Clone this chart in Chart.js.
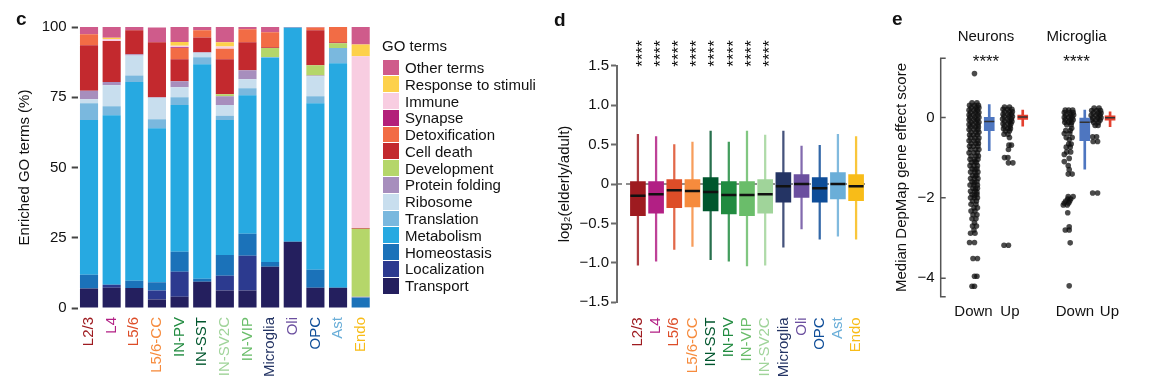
<!DOCTYPE html>
<html>
<head>
<meta charset="utf-8">
<script src="https://cdn.jsdelivr.net/npm/chart.js@4.4.1/dist/chart.umd.min.js"></script>
<style>
  html, body { margin:0; padding:0; background:#fff; }
  body { font-family:"Liberation Sans", Arial, sans-serif; color:#111; }
  #fig { position:relative; width:1154px; height:388px; overflow:hidden; }
  #fig canvas { position:absolute; top:0; }
  .tag { position:absolute; font-size:19px; font-weight:bold; line-height:19px; }
  #goLegend { position:absolute; left:383px; top:37px; font-size:15px; }
  #goLegend .ttl { height:22px; line-height:18px; margin-left:-1px; }
  #goLegend .item { display:flex; align-items:center; height:16.8px; white-space:nowrap; }
  #goLegend .sw { width:16px; height:15.8px; margin-right:6px; }
</style>
</head>
<body>
<div id="fig">
  <canvas id="chartGo" width="392" height="388" style="left:0"></canvas>
  <canvas id="chartFold" width="344" height="388" style="left:548px"></canvas>
  <canvas id="chartDep" width="274" height="388" style="left:880px"></canvas>
  <div class="tag" style="left:16px;top:9px">c</div>
  <div class="tag" style="left:554px;top:10px">d</div>
  <div class="tag" style="left:892px;top:9px">e</div>
  <div id="goLegend"></div>
</div>
<script>
// ─────────────────────────────────────────────────────────────────────────────
// DATA
// ─────────────────────────────────────────────────────────────────────────────

// c — share of enriched GO terms per cell type (%), stacked bottom → top
const goCells = ['L2/3','L4','L5/6','L5/6-CC','IN-PV','IN-SST','IN-SV2C','IN-VIP','Microglia','Oli','OPC','Ast','Endo'];
const goTransport      = [6.9, 7.2, 7.1, 3.0, 4.0, 9.3, 6.2, 6.2, 14.7, 23.6, 7.2, 7.2, 0.2];
const goLocalization   = [0, 1.1, 0, 3.2, 8.9, 0, 5.3, 12.4, 0, 0, 0, 0, 0];
const goHomeostasis    = [4.9, 0, 2.6, 3.0, 7.1, 1.1, 7.4, 7.8, 1.7, 0, 6.4, 0, 3.5];
const goMetabolism     = [55.1, 60.3, 70.7, 54.8, 52.2, 76.3, 48.0, 49.3, 72.7, 76.2, 59.3, 79.9, 0];
const goTranslation    = [6.0, 3.2, 2.3, 3.2, 2.8, 2.5, 1.5, 2.5, 0.2, 0, 2.5, 5.4, 0];
const goRibosome       = [1.4, 7.5, 7.2, 7.6, 3.6, 1.6, 3.8, 3.2, 0, 0, 7.1, 0, 0];
const goProteinFolding = [3.0, 1.1, 0.4, 0.2, 2.1, 0.2, 3.2, 3.2, 0, 0, 0.2, 0, 0.3];
const goDevelopment    = [0, 0, 0, 0, 0, 0, 0.7, 0, 3.2, 0, 3.7, 1.7, 24.2];
const goCellDeath      = [16.2, 14.6, 8.5, 19.6, 7.8, 5.3, 12.4, 10.0, 0.3, 0, 12.4, 0.4, 0.3];
const goDetox          = [3.9, 0, 0, 0, 4.0, 2.5, 3.8, 4.6, 5.3, 0, 1.0, 5.4, 0];
const goSynapse        = [0, 0, 0, 0, 0.3, 0, 0, 0, 0, 0, 0, 0, 0];
const goImmune         = [0, 0.7, 0, 0, 0.5, 0, 0.8, 0, 0, 0, 0, 0, 61.1];
const goResponse       = [0, 0.5, 0, 0, 1.4, 0, 1.5, 0, 0, 0, 0, 0, 4.2];
const goOther          = [2.6, 3.8, 1.2, 5.2, 5.3, 1.2, 5.4, 0.8, 1.9, 0.2, 0.2, 0, 6.2];

const goTerms  = ['Transport','Localization','Homeostasis','Metabolism','Translation','Ribosome','Protein folding',
                  'Development','Cell death','Detoxification','Synapse','Immune','Response to stimuli','Other terms'];
const goShares = [goTransport, goLocalization, goHomeostasis, goMetabolism, goTranslation, goRibosome, goProteinFolding,
                  goDevelopment, goCellDeath, goDetox, goSynapse, goImmune, goResponse, goOther];
const goTicks  = [0, 25, 50, 75, 100];

// d — log2(elderly/adult) box stats per cell type
const foldCells  = ['L2/3','L4','L5/6','L5/6-CC','IN-SST','IN-PV','IN-VIP','IN-SV2C','Microglia','Oli','OPC','Ast','Endo'];
const foldLow    = [-1.03, -0.98, -0.83, -0.79, -0.96, -0.98, -1.04, -1.03, -0.80, -0.57, -0.70, -0.66, -0.70];
const foldQ1     = [-0.40, -0.37, -0.30, -0.29, -0.34, -0.38, -0.40, -0.37, -0.23, -0.17, -0.23, -0.19, -0.21];
const foldMedian = [-0.15, -0.13, -0.08, -0.09, -0.10, -0.14, -0.14, -0.13, -0.03, 0.00, -0.055, 0.00, -0.03];
const foldQ3     = [0.03, 0.03, 0.055, 0.055, 0.08, 0.03, 0.03, 0.055, 0.145, 0.12, 0.08, 0.145, 0.12];
const foldHigh   = [0.63, 0.60, 0.50, 0.53, 0.67, 0.53, 0.67, 0.62, 0.67, 0.48, 0.49, 0.63, 0.60];
const foldStars  = ['****','****','****','****','****','****','****','****','','','','',''];

// e — median DepMap gene effect score, [jitter, score] per gene
const depGroups = ['Neurons', 'Microglia'];
const depStars  = ['****', '****'];
const depSides  = ['Down', 'Up', 'Down', 'Up'];
const depLow    = [-0.83, -0.22, -1.29, -0.23];
const depQ1     = [-0.33, -0.05, -0.58, -0.07];
const depMedian = [-0.10, 0.01, -0.12, -0.01];
const depQ3     = [0.00, 0.06, -0.02, 0.04];
const depHigh   = [0.32, 0.18, 0.18, 0.14];
const depTicks  = [0, -2, -4];

const neuDown = [
  [0.05,1.09],
  [-0.2,0.36],[0.3,0.36],[-0.45,0.30],[0.05,0.30],[0.45,0.30],[-0.3,0.24],[0.2,0.24],[0.5,0.24],
  [-0.5,0.18],[0.0,0.18],[0.35,0.18],[-0.35,0.12],[0.15,0.12],[0.5,0.12],[-0.5,0.06],[-0.05,0.06],[0.4,0.06],
  [-0.4,0.00],[0.1,0.00],[0.5,0.00],[-0.5,-0.06],[0.0,-0.06],[0.35,-0.06],[-0.3,-0.12],[0.2,-0.12],[0.5,-0.12],
  [-0.5,-0.18],[-0.1,-0.18],[0.4,-0.18],[-0.35,-0.24],[0.15,-0.24],[0.45,-0.24],[-0.5,-0.30],[0.0,-0.30],[0.4,-0.30],
  [-0.3,-0.37],[0.2,-0.37],[0.5,-0.37],[-0.45,-0.44],[-0.05,-0.44],[0.35,-0.44],[-0.35,-0.51],[0.1,-0.51],[0.5,-0.51],
  [-0.5,-0.58],[0.0,-0.58],[0.4,-0.58],[-0.3,-0.65],[0.2,-0.65],[0.45,-0.65],[-0.45,-0.72],[-0.05,-0.72],[0.4,-0.72],
  [-0.35,-0.80],[0.15,-0.80],[0.5,-0.80],[-0.5,-0.88],[0.0,-0.88],[0.35,-0.88],[-0.3,-0.96],[0.2,-0.96],[0.45,-0.96],
  [-0.4,-1.04],[0.05,-1.04],[0.4,-1.04],[-0.25,-1.12],[0.1,-1.10],[0.25,-1.12],[-0.4,-1.20],[0.0,-1.20],[0.35,-1.20],
  [-0.2,-1.28],[0.1,-1.30],[0.3,-1.28],[-0.35,-1.36],[0.1,-1.36],[0.4,-1.36],[-0.15,-1.44],[0.15,-1.46],[0.3,-1.44],
  [-0.35,-1.52],[0.05,-1.52],[0.4,-1.52],[-0.2,-1.60],[0.05,-1.62],[0.3,-1.60],[-0.4,-1.68],[0.0,-1.68],[0.35,-1.68],
  [-0.1,-1.76],[0.15,-1.78],[0.35,-1.76],[-0.35,-1.84],[0.1,-1.84],[0.3,-1.86],[-0.2,-1.92],[0.05,-1.94],[0.3,-1.92],
  [-0.35,-2.00],[0.05,-2.00],[0.35,-2.00],
  [-0.15,-2.08],[0.25,-2.08],[-0.3,-2.16],[0.2,-2.16],[0.0,-2.25],[0.35,-2.25],[-0.3,-2.33],[0.1,-2.33],
  [-0.1,-2.42],[0.3,-2.42],[-0.2,-2.52],[0.2,-2.52],[0.05,-2.62],[-0.15,-2.70],[0.25,-2.70],[0.0,-2.80],
  [-0.35,-2.88],[0.1,-2.88],
  [-0.45,-3.11],[0.05,-3.11],[-0.1,-3.51],[0.35,-3.51],[0.05,-3.95],[0.3,-3.95],[-0.2,-4.20],[0.05,-4.20]
];
const neuUp = [
  [-0.3,0.26],[0.2,0.26],[-0.45,0.20],[0.0,0.20],[0.45,0.20],[-0.3,0.14],[0.2,0.14],[0.5,0.14],
  [-0.45,0.08],[0.05,0.08],[0.4,0.08],[-0.35,0.02],[0.15,0.02],[0.5,0.02],[-0.5,-0.04],[0.0,-0.04],[0.4,-0.04],
  [-0.3,-0.10],[0.2,-0.10],[0.45,-0.10],[-0.45,-0.16],[0.05,-0.16],[0.35,-0.16],[-0.3,-0.22],[0.25,-0.22],
  [-0.4,-0.28],[0.05,-0.28],[0.3,-0.28],[-0.2,-0.34],[0.2,-0.34],
  [-0.35,-0.42],[0.05,-0.42],[0.2,-0.50],[0.15,-0.69],[0.4,-0.69],[0.1,-0.80],
  [-0.3,-1.00],[0.05,-1.00],[0.1,-1.13],[0.55,-1.13],[-0.35,-3.18],[0.1,-3.18]
];
const micDown = [
  [-0.35,0.18],[0.0,0.18],[0.4,0.18],[-0.45,0.12],[0.1,0.12],[0.45,0.12],[-0.3,0.06],[0.2,0.06],[0.5,0.06],
  [-0.45,0.00],[0.0,0.00],[0.35,0.00],[-0.35,-0.06],[0.15,-0.06],[0.45,-0.06],[-0.4,-0.12],[0.0,-0.12],[0.3,-0.12],
  [-0.2,-0.18],[0.25,-0.18],[0.3,-0.27],[-0.3,-0.33],[0.15,-0.33],[-0.45,-0.40],[0.1,-0.40],
  [-0.25,-0.50],[0.35,-0.50],[0.05,-0.55],[0.0,-0.66],[0.25,-0.66],[-0.25,-0.74],[0.15,-0.74],
  [-0.2,-0.86],[0.2,-0.86],[-0.45,-0.92],[0.05,-1.02],[-0.45,-1.10],[-0.05,-1.20],[0.05,-1.30],
  [-0.05,-1.41],[0.35,-1.41],[-0.05,-1.97],[0.45,-1.97],[-0.1,-2.03],[0.2,-2.03],[-0.3,-2.08],[0.1,-2.08],
  [-0.45,-2.13],[0.0,-2.13],[-0.55,-2.18],[-0.15,-2.18],[-0.1,-2.37],[0.05,-2.72],[-0.35,-2.80],[0.05,-2.80],
  [0.15,-3.12],[0.05,-4.19]
];
const micUp = [
  [-0.2,0.23],[0.3,0.23],[-0.45,0.17],[0.05,0.17],[0.45,0.17],[-0.3,0.11],[0.2,0.11],[0.5,0.11],
  [-0.5,0.05],[0.0,0.05],[0.4,0.05],[-0.35,-0.01],[0.15,-0.01],[0.5,-0.01],[-0.45,-0.07],[0.0,-0.07],[0.4,-0.07],
  [-0.25,-0.13],[0.25,-0.13],[-0.1,-0.20],[0.2,-0.20],
  [-0.35,-0.48],[0.05,-0.48],[-0.3,-0.60],[0.15,-0.60],[-0.35,-1.88],[0.15,-1.88]
];
const depPoints = [neuDown, neuUp, micDown, micUp];

// ─────────────────────────────────────────────────────────────────────────────
// STYLE / LAYOUT
// ─────────────────────────────────────────────────────────────────────────────

const FONT = '"Liberation Sans", Arial, sans-serif';
const goColors = ['#241F5E','#2C3A8F','#1B72B9','#27A9E1','#7AB8DE','#C8DEEE','#A78EBD',
                  '#B5D66A','#C3292E','#F26C45','#B3207A','#F8CDE1','#FDD14B','#CF5B8B'];
const cellColors = {
  'L2/3':'#9E1B20', 'L4':'#B21F84', 'L5/6':'#DD4D28', 'L5/6-CC':'#F68B3D',
  'IN-SST':'#00562D', 'IN-PV':'#218B40', 'IN-VIP':'#6ABD6A', 'IN-SV2C':'#A0D49A',
  'Microglia':'#243464', 'Oli':'#6B4F9F', 'OPC':'#0E4D98', 'Ast':'#6AAED8', 'Endo':'#F8BC18'
};
const foldXMin = -0.15, foldXMax = 13.6;
const depPointX = [3.38, 6.78, 13.0, 15.78];
const depBoxX   = [4.93, 8.33, 14.63, 17.2];
const depTickX  = [3.33, 7.03, 13.63, 17.13];
const depTitleX = [4.6, 13.8];
const depBoxColors = ['#4E76C0', '#E4402F', '#4E76C0', '#E4402F'];

Chart.defaults.font.family = FONT;
Chart.defaults.font.size = 15;
Chart.defaults.color = '#111';
Chart.defaults.animation = false;
Chart.defaults.events = [];
Chart.defaults.plugins.legend.display = false;
Chart.defaults.plugins.tooltip.enabled = false;

const minus = v => v === 0 ? '0' : (v < 0 ? '\u2212' : '') + Math.abs(v);

// ─────────────────────────────────────────────────────────────────────────────
// c — stacked GO term shares
// ─────────────────────────────────────────────────────────────────────────────

function renderGoLegend() {
  const el = document.getElementById('goLegend');
  const rows = goTerms.map((t, i) =>
    `<div class="item"><div class="sw" style="background:${goColors[i]}"></div>${t}</div>`).reverse();
  el.innerHTML = `<div class="ttl">GO terms</div>` + rows.join('');
}

function renderGoChart() {
  new Chart(document.getElementById('chartGo'), {
    type: 'bar',
    data: {
      labels: goCells,
      datasets: goTerms.map((t, i) => ({
        label: t, data: goShares[i], backgroundColor: goColors[i],
        borderWidth: 0, barPercentage: 0.8, categoryPercentage: 1
      }))
    },
    options: {
      responsive: false,
      layout: { padding: { top: 27, right: 20, bottom: 0, left: 0 } },
      scales: {
        x: {
          stacked: true,
          grid: { display: false, drawTicks: false }, border: { display: false },
          ticks: { autoSkip: false, maxRotation: 90, minRotation: 90, padding: 9,
                   color: c => cellColors[goCells[c.index]] },
          afterFit: s => { s.height = 80; }
        },
        y: {
          stacked: true, min: 0, max: 100,
          afterBuildTicks: s => { s.ticks = goTicks.map(v => ({ value: v })); },
          ticks: { padding: 5 },
          grid: { drawOnChartArea: false, tickLength: 6, tickColor: '#444', tickWidth: 2 },
          border: { display: false },
          title: { display: true, text: 'Enriched GO terms (%)', padding: { top: 16, bottom: 0 } },
          afterFit: s => { s.width = 77.7; }
        }
      }
    }
  });
}

// ─────────────────────────────────────────────────────────────────────────────
// d — fold-change box plots
// ─────────────────────────────────────────────────────────────────────────────

const foldStarsPlugin = {
  id: 'foldStars',
  afterDraw(chart) {
    const { ctx, chartArea, scales: { x } } = chart;
    ctx.save();
    ctx.font = `17px ${FONT}`;
    ctx.fillStyle = '#111';
    foldStars.forEach((s, i) => {
      if (!s) return;
      ctx.save();
      ctx.translate(x.getPixelForValue(i + 1), chartArea.top + 1);
      ctx.rotate(-Math.PI / 2);
      ctx.fillText(s, 0, 0.57 * 17);
      ctx.restore();
    });
    ctx.restore();
  }
};

function renderFoldChart() {
  const pos = foldCells.map((_, i) => i + 1);
  const cols = foldCells.map(c => cellColors[c]);
  new Chart(document.getElementById('chartFold'), {
    type: 'bar',
    data: {
      datasets: [
        { type: 'line', data: [{ x: foldXMin, y: 0 }, { x: foldXMax, y: 0 }],
          borderColor: '#6b6b6b', borderWidth: 1.5, borderDash: [5, 4], pointRadius: 0, order: 10 },
        { data: pos.map((x, i) => ({ x, y: [foldLow[i], foldHigh[i]] })),
          backgroundColor: cols.map(c => c + 'D8'), grouped: false, barThickness: 1.6, maxBarThickness: 1.6, order: 5 },
        { data: pos.map((x, i) => ({ x, y: [foldQ1[i], foldQ3[i]] })),
          backgroundColor: cols, grouped: false, barThickness: 15, maxBarThickness: 15, order: 2 },
        { type: 'scatter', data: pos.map((x, i) => ({ x, y: foldMedian[i] })),
          pointStyle: 'line', pointRadius: 7.5, borderColor: '#111', borderWidth: 2.5, order: 1 }
      ]
    },
    options: {
      responsive: false,
      layout: { padding: { top: 65.7, right: 25, bottom: 0, left: 0 } },
      scales: {
        x: {
          type: 'linear', min: foldXMin, max: foldXMax, offset: false,
          grid: { display: false, drawTicks: false, offset: false }, border: { display: false },
          ticks: { stepSize: 1, includeBounds: false, autoSkip: false, maxRotation: 90, minRotation: 90, padding: 15,
                   callback: v => foldCells[v - 1] || '',
                   color: c => cellColors[foldCells[c.tick.value - 1]] || '#111' },
          afterFit: s => { s.height = 85.7; }
        },
        y: {
          min: -1.5, max: 1.5,
          ticks: { stepSize: 0.5, padding: 2,
                   callback: v => v === 0 ? '0' : (v < 0 ? '\u2212' : '') + Math.abs(v).toFixed(1) },
          grid: { drawOnChartArea: false, tickLength: 6, tickColor: '#6b6b6b', tickWidth: 2 },
          border: { color: '#6b6b6b', width: 2 },
          title: { display: true, text: 'log\u2082(elderly/adult)', padding: { top: 8, bottom: 0 } },
          afterFit: s => { s.width = 69; }
        }
      }
    },
    plugins: [foldStarsPlugin]
  });
}

// ─────────────────────────────────────────────────────────────────────────────
// e — DepMap gene effect, jittered points + boxes
// ─────────────────────────────────────────────────────────────────────────────

const depDecorPlugin = {
  id: 'depDecor',
  afterDraw(chart) {
    const { ctx, chartArea: a, scales: { x, y } } = chart;
    ctx.save();
    // bracket-style axis with inward ticks
    ctx.strokeStyle = '#555';
    ctx.lineWidth = 1.5;
    ctx.beginPath();
    ctx.moveTo(a.left + 5, a.top); ctx.lineTo(a.left, a.top);
    ctx.lineTo(a.left, a.bottom); ctx.lineTo(a.left + 5, a.bottom);
    depTicks.forEach(v => {
      const py = y.getPixelForValue(v);
      ctx.moveTo(a.left, py); ctx.lineTo(a.left + 5, py);
    });
    ctx.stroke();
    // group titles and significance
    ctx.fillStyle = '#111';
    ctx.textAlign = 'center';
    ctx.font = `15px ${FONT}`;
    ctx.textBaseline = 'middle';
    depGroups.forEach((g, i) => ctx.fillText(g, x.getPixelForValue(depTitleX[i]), 37));
    ctx.font = `17px ${FONT}`;
    ctx.textBaseline = 'alphabetic';
    depStars.forEach((s, i) => ctx.fillText(s, x.getPixelForValue(depTitleX[i]), a.top + 8.7));
    ctx.restore();
  }
};

function renderDepChart() {
  const pointSets = depPoints.map((pts, k) => ({
    type: 'scatter',
    data: pts.map(([j, v]) => ({ x: depPointX[k] + j, y: v })),
    pointRadius: 2.8, borderWidth: 0, backgroundColor: 'rgba(15,15,15,0.75)', order: 3
  }));
  new Chart(document.getElementById('chartDep'), {
    type: 'bar',
    data: {
      datasets: [
        ...pointSets,
        { data: depBoxX.map((x, i) => ({ x, y: [depLow[i], depHigh[i]] })),
          backgroundColor: depBoxColors, grouped: false, barThickness: 2, maxBarThickness: 2, order: 5 },
        { data: depBoxX.map((x, i) => ({ x, y: [depQ1[i], depQ3[i]] })),
          backgroundColor: depBoxColors, grouped: false, barThickness: 10, maxBarThickness: 10, order: 2 },
        { type: 'scatter', data: depBoxX.map((x, i) => ({ x, y: depMedian[i] })),
          pointStyle: 'line', pointRadius: 5, borderColor: '#333', borderWidth: 1.5, order: 1 }
      ]
    },
    options: {
      responsive: false,
      layout: { padding: { top: 58.3, right: 3.3, bottom: 0, left: 0 } },
      scales: {
        x: {
          type: 'linear', min: 0, max: 21, offset: false,
          grid: { display: false, drawTicks: false, offset: false }, border: { display: false },
          afterBuildTicks: s => { s.ticks = depTickX.map(v => ({ value: v })); },
          ticks: { autoSkip: false, maxRotation: 0, padding: 6, callback: (v, i) => depSides[i] },
          afterFit: s => { s.height = 91.3; }
        },
        y: {
          min: -4.46, max: 1.47,
          afterBuildTicks: s => { s.ticks = depTicks.map(v => ({ value: v })); },
          ticks: { padding: 6, callback: minus },
          grid: { display: false, drawTicks: false }, border: { display: false },
          title: { display: true, text: 'Median DepMap gene effect score', padding: { top: 13, bottom: 0 } },
          afterFit: s => { s.width = 60.7; }
        }
      }
    },
    plugins: [depDecorPlugin]
  });
}

renderGoLegend();
renderGoChart();
renderFoldChart();
renderDepChart();
</script>
</body>
</html>
